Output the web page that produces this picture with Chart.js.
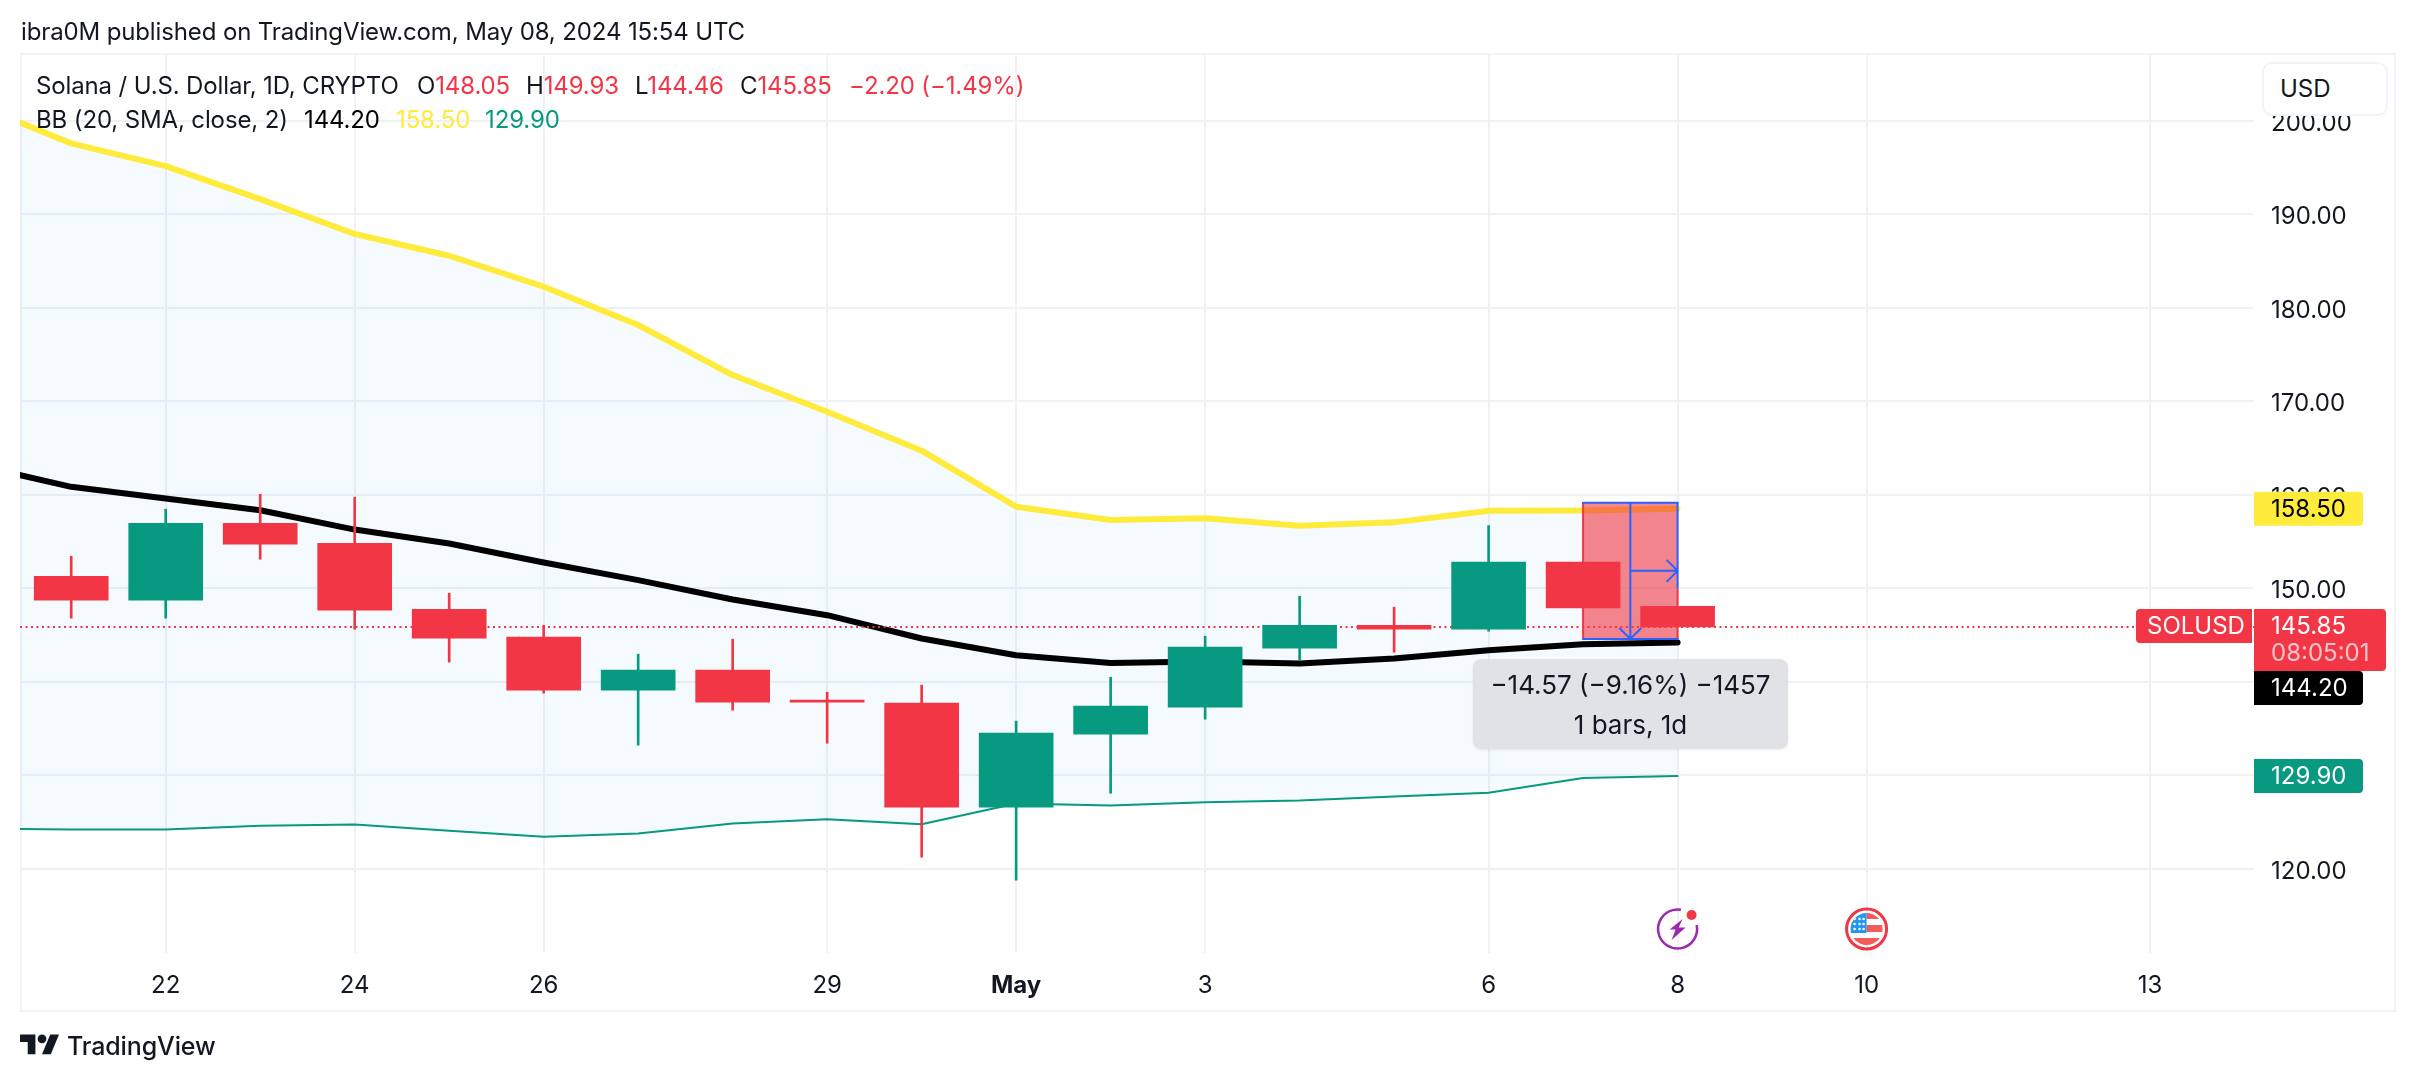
<!DOCTYPE html>
<html><head><meta charset="utf-8">
<script src="https://cdn.jsdelivr.net/npm/chart.js@4"></script>
<style>
html,body{margin:0;padding:0;background:#fff;width:2414px;height:1080px;overflow:hidden}
body{position:relative;font-family:Inter,sans-serif;color:#131722}
#frame{position:absolute;left:20px;top:53px;width:2372px;height:955px;border:2px solid #f0f3fa}
canvas{position:absolute;left:0;top:0}
.t{position:absolute;white-space:pre;font-size:24px;line-height:30px;letter-spacing:-.13px}
.r{color:#f23645}.y{color:#ffeb3b}.g{color:#089981}.k{color:#000}
#usd{position:absolute;left:2262px;top:62px;width:122px;height:50px;background:#fff;border:2px solid #f0f3fa;border-radius:10px;font-size:24px;line-height:50px;text-indent:16px}
#tip{position:absolute;left:1473px;top:659px;width:315px;height:90px;border-radius:8px;background:rgba(223,225,229,.96);box-shadow:0 1px 3px rgba(0,0,0,.08);text-align:center;font-size:26px;color:#131722}
#tip div{position:absolute;left:0;right:0;line-height:30px}
#logo{position:absolute;left:20px;top:1030px}
</style></head><body>
<div id="frame"></div>
<canvas id="c" width="2414" height="1080"></canvas>
<div class="t" style="left:21px;top:17px">ibra0M published on TradingView.com, May 08, 2024 15:54 UTC</div>
<div class="t" style="left:36px;top:71px">Solana / U.S. Dollar, 1D, CRYPTO</div>
<div class="t" style="left:417px;top:71px">O<span class="r">148.05</span></div>
<div class="t" style="left:526px;top:71px">H<span class="r">149.93</span></div>
<div class="t" style="left:635px;top:71px">L<span class="r">144.46</span></div>
<div class="t" style="left:740px;top:71px">C<span class="r">145.85</span></div>
<div class="t r" style="left:849px;top:71px">−2.20 (−1.49%)</div>
<div class="t" style="left:36px;top:105px">BB (20, SMA, close, 2)</div>
<div class="t k" style="left:304px;top:105px">144.20</div>
<div class="t y" style="left:396px;top:105px">158.50</div>
<div class="t g" style="left:485px;top:105px">129.90</div>
<div id="usd">USD</div>
<div id="tip"><div style="top:11px">−14.57 (−9.16%) −1457</div><div style="top:51px">1 bars, 1d</div></div>
<svg id="logo" width="44" height="28" viewBox="0 0 40 25.5"><g fill="#131722"><path d="M14 22H7V11H0V4h14v18zM28 22h-8l7.5-18h8L28 22z"/><circle cx="20" cy="8" r="4"/></g></svg>
<div class="t" style="left:67px;top:1031px;font-weight:500;font-size:25px">TradingView</div>
<script>
// Days counted from Apr 21 (0) to May 8 (17)
const dayIndex = [0,1,2,3,4,5,6,7,8,9,10,11,12,13,14,15,16,17];
const opens  = [151.28,148.72,156.95,154.81,147.75,144.76,139.09,141.23,138.02,137.70,126.58,134.38,137.27,143.58,146.04,145.61,152.80,148.05];
const highs  = [153.42,158.45,160.05,159.73,149.47,146.04,142.94,144.55,138.88,139.63,135.78,140.48,144.87,149.14,147.97,156.70,152.80,148.05];
const lows   = [146.79,146.79,153.10,145.61,142.09,138.77,133.21,136.95,133.42,121.23,118.77,128.07,135.99,142.30,143.15,145.40,147.88,145.85];
const closes = [148.72,156.95,154.71,147.65,144.65,139.09,141.23,137.81,137.81,126.58,134.49,137.38,143.69,146.04,145.61,152.78,147.88,145.85];
// Bollinger bands: first value is Apr 20 (day -1), just off the left edge
const bandDays = [-1,0,1,2,3,4,5,6,7,8,9,10,11,12,13,14,15,16,17];
const bbUpper = [201.68,197.58,195.15,191.62,187.88,185.56,182.25,178.15,172.80,168.88,164.71,158.72,157.29,157.47,156.68,157.04,158.29,158.32,158.50];
const bbBasis = [163.15,160.84,159.59,158.34,156.27,154.78,152.75,150.86,148.79,147.11,144.62,142.83,142.01,142.16,141.94,142.48,143.37,144.00,144.20];
const bbLower = [124.30,124.19,124.19,124.58,124.72,124.05,123.41,123.76,124.83,125.29,124.76,126.97,126.76,127.11,127.29,127.72,128.11,129.71,129.90];
const xTickValues = [1,3,5,8,10,12,15,17,19,22];
const xTickLabels = ['22','24','26','29','May','3','6','8','10','13'];
const boldTick = 'May';
const priceTicks = [120,130,140,150,160,170,180,190,200];
const lastPrice = 145.85;
const lastSma = 144.20, lastUp = 158.50, lastLow = 129.90;
const rangeTop = 159.14, rangeBottom = 144.57;
const rangeStartDay = 16, rangeEndDay = 17;
const axisDays = {min:-0.542, max:23.1};
const axisPrice = {min:110.98, max:207.03};

const RED='#f23645', GREEN='#089981', YEL='#ffeb3b', INK='#131722', GRID='#f0f1f5';
const FONT='Inter, sans-serif';
const pts = (xs,ys)=>xs.map((x,i)=>({x,y:ys[i]}));
const candleColor = opens.map((o,i)=>closes[i]>=o?GREEN:RED);
const lineBase = {type:'line',pointRadius:0,tension:0,borderCapStyle:'round',borderJoinStyle:'round'};

function roundTag(ctx,x,y,w,h,fill,lines,tl){
  ctx.fillStyle=fill;ctx.beginPath();
  ctx.roundRect(x,y,w,h,tl?[4,0,0,4]:[0,4,4,0]);ctx.fill();
  ctx.textAlign='left';ctx.textBaseline='middle';ctx.font='24px '+FONT;
  lines.forEach(l=>{ctx.fillStyle=l.c;ctx.fillText(l.t,x+l.dx,l.y);});
}

const overlay = {
  id:'overlay',
  beforeDatasetDraw(chart,args){
    if(chart.data.datasets[args.index].label!=='Last price') return;
    const {ctx,scales:{x,y}}=chart;
    const l=x.getPixelForValue(rangeStartDay),r=x.getPixelForValue(rangeEndDay);
    const t=y.getPixelForValue(rangeTop),b=y.getPixelForValue(rangeBottom);
    const mx=(l+r)/2,my=(t+b)/2,BL='#2962ff';
    ctx.save();
    ctx.fillStyle='rgba(242,54,69,.6)';ctx.fillRect(l,t,r-l,b-t);
    ctx.lineWidth=2;
    ctx.strokeStyle=RED;ctx.beginPath();ctx.moveTo(l,t);ctx.lineTo(l,b);ctx.moveTo(r,my+18);ctx.lineTo(r,b);ctx.stroke();
    ctx.strokeStyle=BL;ctx.beginPath();
    ctx.moveTo(l-1,t);ctx.lineTo(r+1,t);ctx.moveTo(l-1,b);ctx.lineTo(r+1,b);
    ctx.moveTo(r,t);ctx.lineTo(r,my+18);
    ctx.moveTo(mx,t);ctx.lineTo(mx,b);ctx.moveTo(mx,my);ctx.lineTo(r,my);
    ctx.moveTo(r-11,my-11);ctx.lineTo(r,my);ctx.lineTo(r-11,my+11);
    ctx.moveTo(mx-11,b-11);ctx.lineTo(mx,b);ctx.lineTo(mx+11,b-11);
    ctx.stroke();
    ctx.restore();
  },
  afterDraw(chart){
    const {ctx,scales:{x,y},chartArea:a}=chart;
    ctx.save();
    const left=a.right, tw=109, th=34;
    const yUp=y.getPixelForValue(lastUp), yLow=y.getPixelForValue(lastLow), yLast=y.getPixelForValue(lastPrice);
    roundTag(ctx,left,yUp-17,tw,th,YEL,[{t:lastUp.toFixed(2),c:'#000',dx:17,y:yUp+1}]);
    roundTag(ctx,left,yLow-17,tw,th,GREEN,[{t:lastLow.toFixed(2),c:'#fff',dx:17,y:yLow+1}]);
    const tagTop=yLast-18;
    roundTag(ctx,left,tagTop+62,tw,th,'#000',[{t:lastSma.toFixed(2),c:'#fff',dx:17,y:tagTop+80}]);
    roundTag(ctx,left,tagTop,132,62,RED,[{t:lastPrice.toFixed(2),c:'#fff',dx:17,y:tagTop+18},{t:'08:05:01',c:'rgba(255,255,255,.7)',dx:17,y:tagTop+45}]);
    roundTag(ctx,2136,tagTop,116,th,RED,[{t:'SOLUSD',c:'#fff',dx:11,y:tagTop+18}],true);
    // event markers
    const ex=x.getPixelForValue(17), fx=x.getPixelForValue(19), ey=929;
    ctx.strokeStyle='#9c27b0';ctx.lineWidth=2.5;
    ctx.beginPath();ctx.arc(ex,ey,19.5,-0.2,Math.PI*2-1.4);ctx.stroke();
    ctx.fillStyle='#9c27b0';ctx.beginPath();
    [[5,-10],[-8,.5],[-2,.5],[-6,11],[8,-1.5],[1,-1.5]].forEach((p,i)=>i?ctx.lineTo(ex+p[0],ey+p[1]):ctx.moveTo(ex+p[0],ey+p[1]));
    ctx.closePath();ctx.fill();
    ctx.fillStyle=RED;ctx.beginPath();ctx.arc(ex+14,ey-14,5,0,7);ctx.fill();
    ctx.strokeStyle=RED;ctx.lineWidth=3;ctx.beginPath();ctx.arc(fx,ey,20,0,7);ctx.stroke();
    ctx.save();ctx.beginPath();ctx.arc(fx,ey,16,0,7);ctx.clip();
    ctx.fillStyle='#fff';ctx.fillRect(fx-17,ey-17,34,34);
    ctx.fillStyle='#f45b5b';
    ctx.fillRect(fx,ey-16,17,6);ctx.fillRect(fx,ey-4,17,7);ctx.fillRect(fx-17,ey+9,34,8);
    ctx.fillStyle='#2196f3';ctx.fillRect(fx-17,ey-17,17,21);
    ctx.fillStyle='#fff';
    [[-12,-10],[-7,-10],[-3,-10],[-12,-5],[-7,-5],[-3,-5],[-12,0],[-7,0],[-3,0]].forEach(p=>{ctx.beginPath();ctx.arc(fx+p[0],ey+p[1],1.3,0,7);ctx.fill();});
    ctx.restore();
    ctx.restore();
  }
};

new Chart(document.getElementById('c'),{
  type:'bar',
  plugins:[overlay],
  data:{datasets:[
    {...lineBase,label:'BB upper',data:pts(bandDays,bbUpper),borderColor:YEL,borderWidth:6,order:10,
      fill:{target:2},backgroundColor:'rgba(33,150,243,.05)'},
    {...lineBase,label:'BB basis',data:pts(bandDays,bbBasis),borderColor:'#000',borderWidth:6,order:9,fill:false},
    {...lineBase,label:'BB lower',data:pts(bandDays,bbLower),borderColor:GREEN,borderWidth:2,order:8,fill:false},
    {...lineBase,label:'Last price',data:[{x:axisDays.min,y:lastPrice},{x:axisDays.max,y:lastPrice}],borderColor:RED,borderWidth:2,borderDash:[2,3.5],borderCapStyle:'butt',order:3,fill:false},
    {label:'Wick',data:dayIndex.map((d,i)=>({x:d,y:[lows[i],highs[i]]})),backgroundColor:candleColor,barThickness:2,order:2,grouped:false},
    {label:'Body',data:dayIndex.map((d,i)=>({x:d,y:[opens[i],closes[i]]})),backgroundColor:candleColor,barThickness:74,order:1,grouped:false}
  ]},
  options:{
    responsive:false,animation:false,
    layout:{padding:{left:20,top:55,right:20,bottom:70}},
    plugins:{legend:{display:false},tooltip:{enabled:false}},
    scales:{
      x:{type:'linear',offset:false,min:axisDays.min,max:axisDays.max,
        afterBuildTicks(s){s.ticks=xTickValues.map(v=>({value:v}));},
        afterFit(s){s.height=57;},
        grid:{offset:false,color:GRID,lineWidth:2,drawTicks:false},border:{display:false},
        ticks:{autoSkip:false,maxRotation:0,padding:18,color:INK,
          callback:v=>xTickLabels[xTickValues.indexOf(v)],
          font:c=>({family:FONT,size:24,weight:xTickLabels[c.index]===boldTick?'700':'400'})}},
      y:{type:'linear',position:'right',min:axisPrice.min,max:axisPrice.max,
        afterBuildTicks(s){s.ticks=priceTicks.map(v=>({value:v}));},
        afterFit(s){
          s.width=140;
          const orig=s._computeLabelItems.bind(s);
          s._computeLabelItems=ca=>orig(ca).map(it=>{it.options.translation[1]+=1.5;return it;});
        },
        grid:{color:GRID,lineWidth:2,drawTicks:false},border:{display:false},
        ticks:{padding:17,color:INK,crossAlign:'near',callback:v=>Number(v).toFixed(2),font:{family:FONT,size:24}}}
    }
  }
});
</script>
</body></html>
